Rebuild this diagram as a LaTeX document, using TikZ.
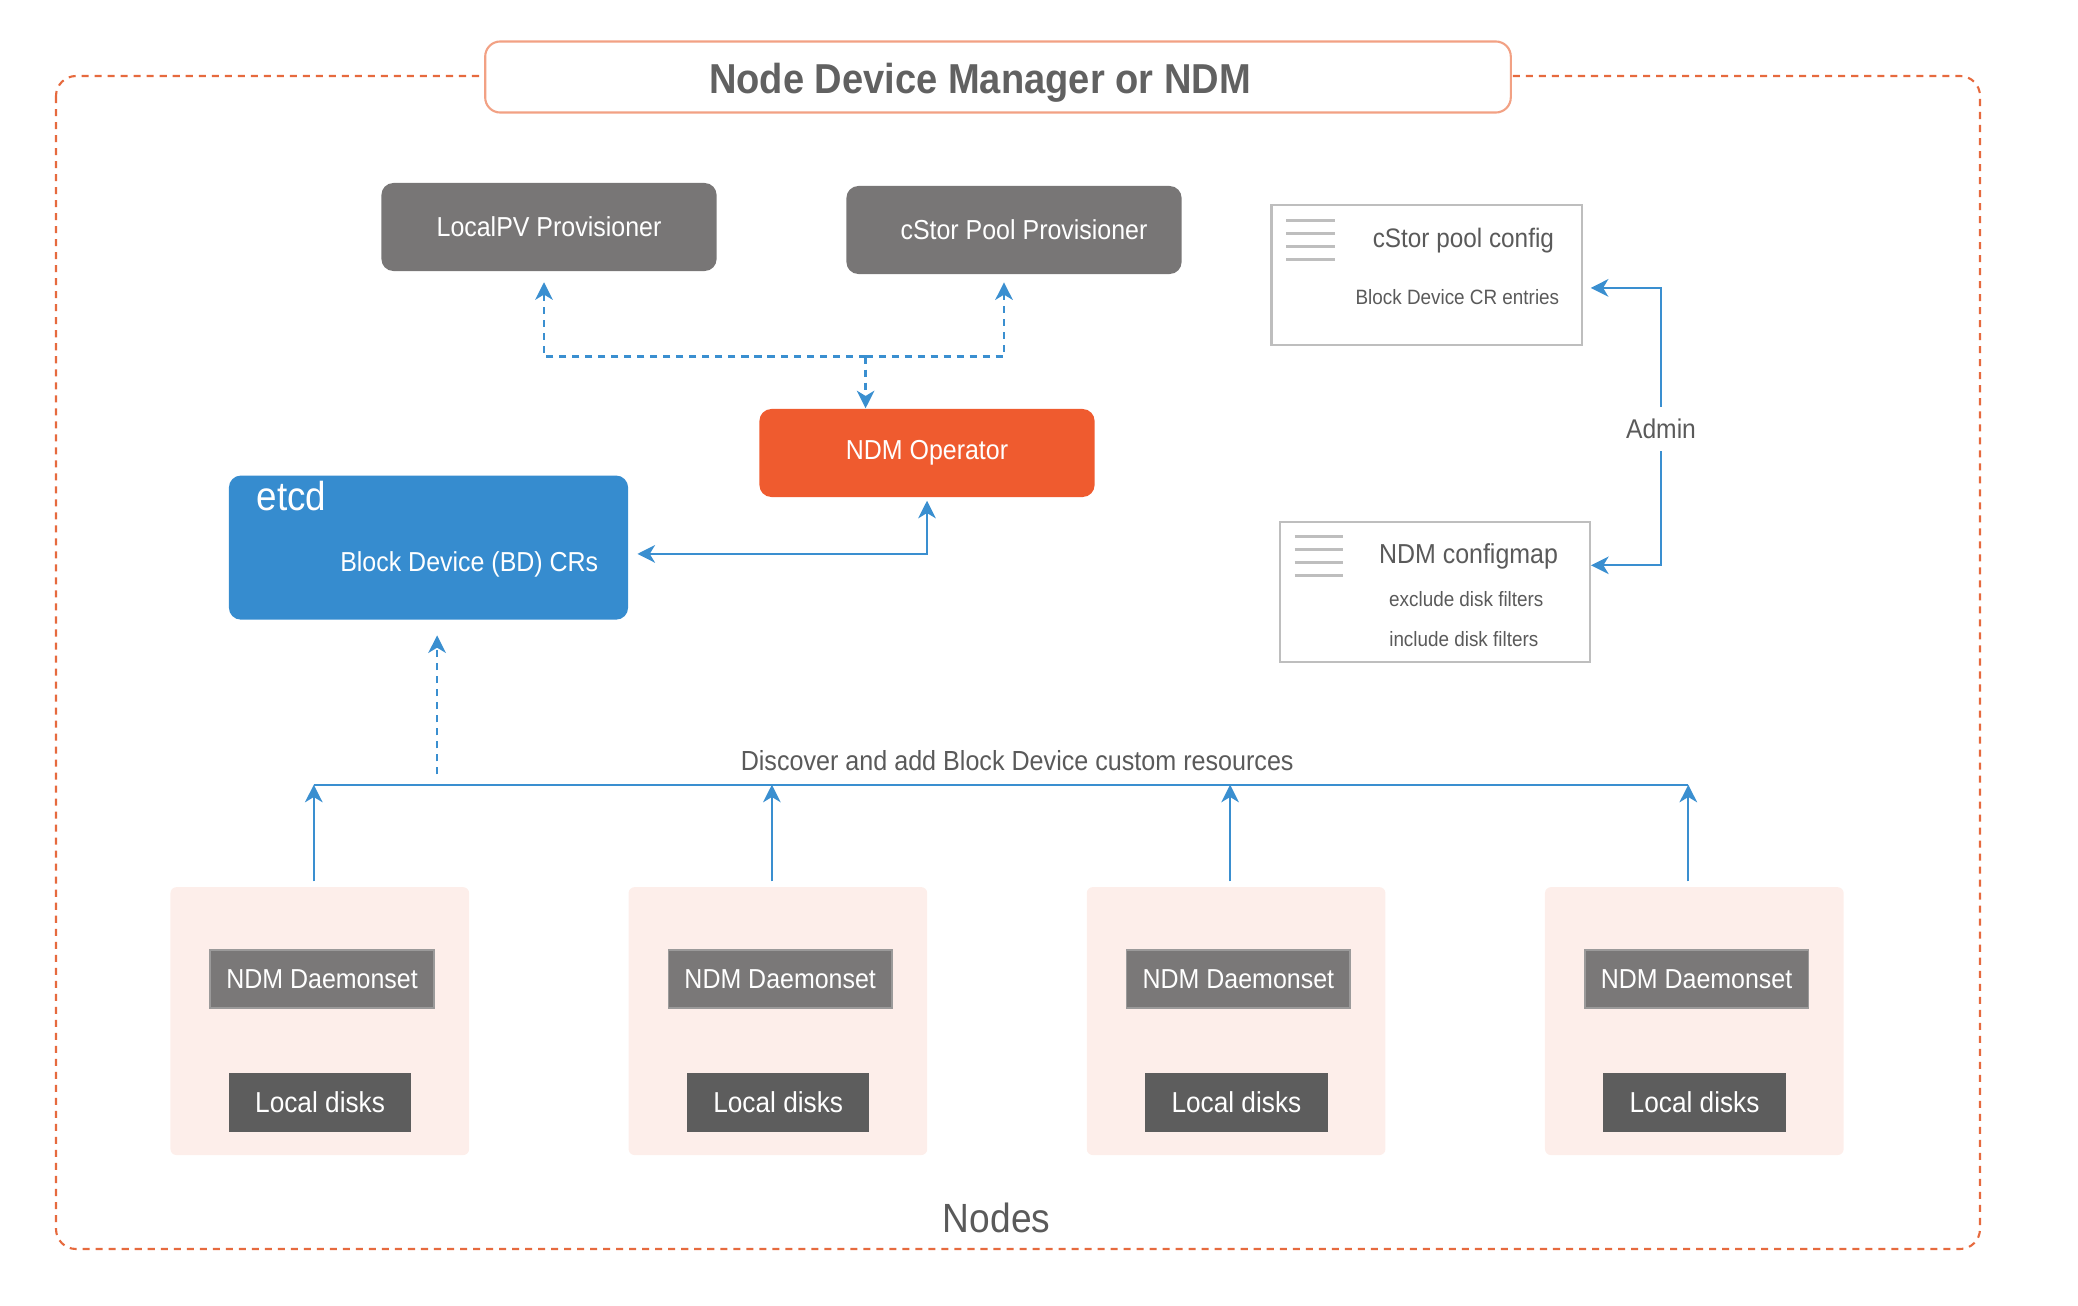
\documentclass[tikz,border=0pt]{standalone}
\usepackage{fontspec}
\setmainfont{Liberation Sans}[FakeStretch=0.91]
\usetikzlibrary{shapes.geometric, arrows, arrows.meta, calc, positioning}
\definecolor{ndmorange}{HTML}{EF5B2F}
\definecolor{borderorange}{HTML}{E66A3E}
\definecolor{titleline}{HTML}{F2A184}
\definecolor{titlegray}{HTML}{616161}
\definecolor{provgray}{HTML}{787676}
\definecolor{dsgray}{HTML}{7A7878}
\definecolor{diskgray}{HTML}{5D5D5D}
\definecolor{etcdblue}{HTML}{368CCF}
\definecolor{flowblue}{HTML}{3A8FD0}
\definecolor{nodepink}{HTML}{FDEEEA}
\definecolor{cfggray}{HTML}{BEBEBE}
\definecolor{txtgray}{HTML}{5A5A5A}
\tikzstyle{prov} = [rectangle, rounded corners=1.2mm, fill=provgray, text=white, minimum width=3.35cm, minimum height=0.88cm, font=\fontsize{7.8}{9}\selectfont]
\tikzstyle{cfg} = [rectangle, draw=cfggray, line width=0.6pt, fill=white, minimum width=3.1cm, minimum height=1.4cm]
\tikzstyle{cfgtext} = [text=txtgray, inner sep=0pt, anchor=base]
\tikzstyle{nodebg} = [rectangle, rounded corners=0.6mm, fill=nodepink, minimum width=2.985cm, minimum height=2.678cm]
\tikzstyle{daemon} = [rectangle, fill=dsgray, draw=dsgray!75!white, line width=0.5pt, text=white, minimum width=2.235cm, minimum height=0.577cm, font=\fontsize{7.8}{9}\selectfont]
\tikzstyle{disk} = [rectangle, fill=diskgray, text=white, minimum width=1.824cm, minimum height=0.594cm, font=\fontsize{8.2}{9}\selectfont]
\tikzstyle{arrow} = [line width=0.65pt, draw=flowblue, ->, >={Stealth[length=5pt,width=5pt,inset=1.5pt]}]
\tikzstyle{dasharrow} = [arrow, dash pattern=on 2pt off 1.7pt]

\begin{document}
\begin{tikzpicture}[x=0.01cm, y=-0.01cm]
	\useasboundingbox (0,0) rectangle (2078,1306);
	\draw[borderorange, line width=0.6pt, dash pattern=on 2pt off 1.7pt, rounded corners=2mm] (56,76) rectangle (1980,1249);
	\node (Title) [rectangle, rounded corners=1.5mm, draw=titleline, line width=0.6pt, fill=white, minimum width=10.25cm, minimum height=0.71cm] at (998,77) {};
	\node (TitleText) [anchor=base, inner sep=0pt, text=titlegray, font=\fontsize{11.9}{14}\selectfont\bfseries] at (980,93.4) {Node Device Manager or NDM};
	\node (LocalPV) [prov] at (549,227) {LocalPV Provisioner};
	\node (CStorProv) [prov] at (1014,230) {\hspace*{2mm}cStor Pool Provisioner};
	\node (Operator) [prov, fill=ndmorange] at (927,453) {NDM Operator};
	\node (Etcd) [rectangle, rounded corners=1.2mm, fill=etcdblue, minimum width=3.99cm, minimum height=1.44cm] at (428.5,547.6) {};
	\node (EtcdLabel) [text=white, anchor=base west, inner sep=0pt, font=\fontsize{11.5}{13}\selectfont] at (256,510) {etcd};
	\node (EtcdCRs) [text=white, anchor=base west, inner sep=0pt, font=\fontsize{7.8}{9}\selectfont] at (339.6,571) {Block Device (BD) CRs};
	% config files on the right
	\node (PoolConfig) [cfg] at (1426.6,275.3) {};
	\foreach \y in {220.6,233.6,246.6,259.6}
		\draw[cfggray, line width=0.7pt] (1286.3,\y) -- (1334.6,\y);
	\node (PoolConfigTitle) [cfgtext, font=\fontsize{7.6}{9}\selectfont] at (1463.4,247.5) {cStor pool config};
	\node (PoolConfigEntries) [cfgtext, font=\fontsize{5.9}{7}\selectfont] at (1457.4,304.3) {Block Device CR entries};
	\node (ConfigMap) [cfg] at (1434.9,591.8) {};
	\foreach \y in {536.7,549.7,562.7,575.7}
		\draw[cfggray, line width=0.7pt] (1294.9,\y) -- (1342.5,\y);
	\node (ConfigMapTitle) [cfgtext, font=\fontsize{7.8}{9}\selectfont] at (1468.5,563.2) {NDM configmap};
	\node (ExcludeFilters) [cfgtext, font=\fontsize{5.9}{7}\selectfont] at (1466.3,606) {exclude disk filters};
	\node (IncludeFilters) [cfgtext, font=\fontsize{5.9}{7}\selectfont] at (1463.8,646) {include disk filters};
	\node (Admin) [text=txtgray, font=\fontsize{7.7}{9}\selectfont] at (1661,429) {Admin};
	\draw[arrow, shorten >=0.8mm] (Admin.north) |- ([yshift=-1.26mm]PoolConfig.east);
	\draw[arrow] (Admin.south) |- ([yshift=2.65mm]ConfigMap.east);
	% operator links
	\coordinate (Split) at (865.6,356.5);
	\draw[dasharrow] (Split) -- (Split |- Operator.north);
	\draw[dasharrow, shorten >=1.05mm] (Split) -| ([xshift=-0.5mm]LocalPV.south);
	\draw[dasharrow, shorten >=0.76mm] (Split) -| ([xshift=-1mm]CStorProv.south);
	\draw[arrow, <->, shorten <=0.86mm, shorten >=0.3mm] ([yshift=-0.63mm]Etcd.east) -| (Operator.south);
	% nodes
	\coordinate (Bus) at (0,784.7);
	\foreach \i/\x in {1/319.8,2/777.9,3/1236.1,4/1694.3} {
		\node (Host\i) [nodebg] at (\x,1021.1) {};
		\node (Daemon\i) [daemon] at ($(Host\i)+(2.3,-42.2)$) {NDM Daemonset};
		\node (Disks\i) [disk] at ($(Host\i)+(0.3,81.2)$) {Local disks};
		\coordinate (Up\i) at ([xshift=-0.6mm]Host\i.north);
		\draw[arrow, shorten <=0.5mm] (Up\i) -- (Up\i |- Bus);
	}
	\draw[flowblue, line width=0.65pt] (Up1 |- Bus) -- (Up4 |- Bus);
	\node (DiscoverLabel) [text=txtgray, anchor=base, inner sep=0pt, font=\fontsize{7.85}{9}\selectfont] at (1017.2,770) {Discover and add Block Device custom resources};
	\coordinate (Tap) at (437.1,774.3);
	\draw[dasharrow, shorten >=1.5mm] (Tap) -- (Tap |- Etcd.south);
	\node (NodesLabel) [text=txtgray, anchor=base, inner sep=0pt, font=\fontsize{11.6}{13}\selectfont] at (996.6,1232.4) {Nodes};
\end{tikzpicture}
\end{document}
